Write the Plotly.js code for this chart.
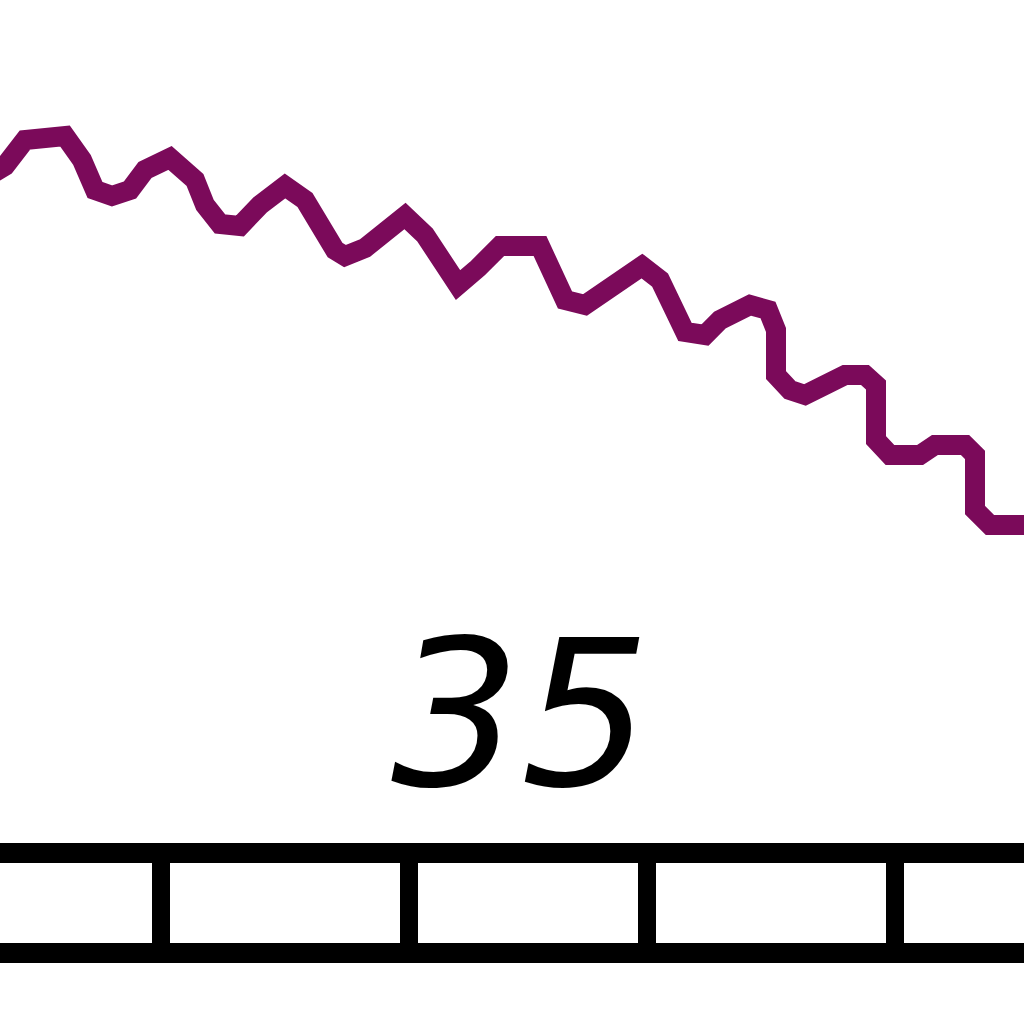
<!DOCTYPE html>
<html>
<head>
<meta charset="utf-8">
<script src="https://cdn.plot.ly/plotly-3.0.1.min.js"></script>
<style>html,body{margin:0;padding:0;background:#fff;}#chart{width:1024px;height:1024px;}</style>
</head>
<body>
<div id="chart"></div>
<script>
// Series: wavy descending line (horizontal position, vertical position)
const lineX = [-5, 5, 25, 45, 65, 82, 95, 112, 130, 145, 170, 195, 205, 220, 240, 260, 285, 305, 320, 335, 345, 365, 385, 405, 425, 440, 458, 478, 500, 540, 553, 565, 585, 605, 625, 642, 660, 672, 685, 705, 720, 750, 768, 776, 776, 790, 805, 825, 845, 865, 876, 876, 890, 920, 935, 965, 975, 975, 990, 1030];
const lineY = [172, 166, 140, 136, 136, 160, 190, 196, 190, 170, 158, 180, 205, 224, 226, 205, 186, 200, 230, 250, 256, 248, 232, 216, 235, 262, 285, 268, 246, 246, 270, 300, 305, 292, 276, 266, 280, 310, 332, 335, 320, 305, 310, 330, 375, 390, 395, 385, 375, 375, 385, 440, 455, 455, 445, 445, 455, 510, 525, 525];
// Strip: rail rows and tick positions
const railRows = [853, 953];
const tickPositions = [161, 409, 647, 895];
const labelText = "35";

const shapes = [];
railRows.forEach(r => shapes.push({type:'line', xref:'x', yref:'y', x0:-20, x1:1044, y0:r, y1:r, line:{color:'#000', width:20}}));
tickPositions.forEach(t => shapes.push({type:'line', xref:'x', yref:'y', x0:t, x1:t, y0:railRows[0], y1:railRows[1], line:{color:'#000', width:18}}));

Plotly.newPlot('chart', [{
  type:'scatter', mode:'lines', x:lineX, y:lineY,
  line:{color:'#7B0A5A', width:20}, hoverinfo:'skip'
}], {
  width:1024, height:1024,
  margin:{l:0, r:0, t:0, b:0, pad:0},
  paper_bgcolor:'#fff', plot_bgcolor:'#fff',
  showlegend:false,
  xaxis:{range:[0,1024], visible:false, fixedrange:true},
  yaxis:{range:[1024,0], visible:false, fixedrange:true},
  shapes:shapes,
  annotations:[{
    text:labelText, xref:'x', yref:'y', x:521, y:714, showarrow:false,
    xanchor:'center', yanchor:'middle',
    font:{family:'DejaVu Sans', size:204, style:'italic', color:'#000'}
  }]
}, {staticPlot:true, displayModeBar:false});
</script>
</body>
</html>
